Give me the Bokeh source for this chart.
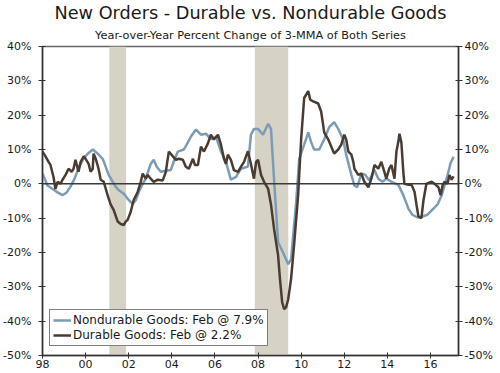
from bokeh.plotting import figure
from bokeh.models import (LinearAxis, Range1d, FixedTicker, CustomJSTickFormatter,
                          BoxAnnotation, Span, Legend, LegendItem, Title)
from bokeh.embed import file_html
from bokeh.resources import INLINE

# ---------------- data ----------------
title_text = "New Orders - Durable vs. Nondurable Goods"
subtitle_text = "Year-over-Year Percent Change of 3-MMA of Both Series"

nd_label = "Nondurable Goods: Feb @ 7.9%"
d_label = "Durable Goods: Feb @ 2.2%"

nd_years = [1998.00, 1998.23, 1998.47, 1998.70, 1998.93, 1999.12, 1999.30, 1999.49, 1999.67, 1999.91,
            2000.14, 2000.33, 2000.56, 2000.79, 2000.93, 2001.07, 2001.26, 2001.40, 2001.53, 2001.77,
            2002.00, 2002.19, 2002.33, 2002.47, 2002.65, 2002.79, 2003.02, 2003.16, 2003.30, 2003.49,
            2003.72, 2003.95, 2004.09, 2004.28, 2004.56, 2004.74, 2004.88, 2005.12, 2005.35, 2005.58,
            2005.81, 2006.05, 2006.28, 2006.51, 2006.74, 2006.98, 2007.21, 2007.53, 2007.67, 2007.81,
            2008.00, 2008.23, 2008.47, 2008.60, 2008.74, 2008.93, 2009.16, 2009.40, 2009.53, 2009.77,
            2009.91, 2010.14, 2010.33, 2010.47, 2010.60, 2010.84, 2011.07, 2011.30, 2011.53, 2011.72,
            2011.95, 2012.09, 2012.33, 2012.47, 2012.60, 2012.79, 2012.98, 2013.16, 2013.40, 2013.58,
            2013.77, 2013.95, 2014.19, 2014.51, 2014.74, 2014.98, 2015.16, 2015.40, 2015.63, 2015.86,
            2016.09, 2016.33, 2016.51, 2016.65, 2016.79, 2016.93, 2017.07]
nd_values = [3.0, -0.5, -1.5, -2.5, -3.3, -2.5, -0.8, 1.5, 4.5, 7.5,
             9.0, 10.0, 8.8, 7.3, 5.0, 2.6, 0.6, -0.9, -1.8, -2.9,
             -4.7, -5.8, -4.7, -2.3, 0.0, 1.5, 5.8, 7.0, 5.0, 3.5,
             3.8, 4.0, 6.5, 9.4, 10.0, 12.0, 13.7, 15.8, 14.3, 14.6,
             13.0, 13.7, 9.4, 6.4, 1.2, 2.0, 4.4, 5.0, 14.3, 16.0,
             16.0, 14.3, 17.5, 16.0, 1.5, -17.0, -20.0, -23.4, -22.0, -5.3,
             7.3, 11.4, 15.0, 12.0, 10.0, 10.0, 13.0, 16.5, 18.0, 16.0,
             12.9, 8.5, 2.6, -0.5, -1.0, 3.0, 2.6, 1.0, 4.0, 1.5,
             0.6, 1.5, 0.6, -0.3, -3.3, -7.3, -9.0, -9.8, -9.5, -9.0,
             -7.5, -6.0, -3.5, -0.5, 2.5, 6.0, 7.9]

d_years = [1998.00, 1998.14, 1998.28, 1998.37, 1998.51, 1998.60, 1998.70, 1998.84, 1998.93, 1999.07,
           1999.21, 1999.35, 1999.44, 1999.53, 1999.67, 1999.77, 1999.91, 2000.00, 2000.14, 2000.23,
           2000.33, 2000.37, 2000.47, 2000.60, 2000.70, 2000.84, 2001.02, 2001.16, 2001.30, 2001.49,
           2001.63, 2001.77, 2001.86, 2001.95, 2002.09, 2002.23, 2002.42, 2002.56, 2002.65, 2002.79,
           2002.88, 2003.02, 2003.16, 2003.35, 2003.58, 2003.72, 2003.86, 2004.05, 2004.19, 2004.33,
           2004.51, 2004.65, 2004.79, 2004.98, 2005.07, 2005.21, 2005.35, 2005.49, 2005.67, 2005.81,
           2005.95, 2006.14, 2006.28, 2006.42, 2006.51, 2006.60, 2006.74, 2006.88, 2007.07, 2007.21,
           2007.35, 2007.53, 2007.67, 2007.81, 2007.91, 2008.00, 2008.14, 2008.28, 2008.47, 2008.60,
           2008.74, 2008.93, 2009.02, 2009.12, 2009.21, 2009.30, 2009.40, 2009.53, 2009.67, 2009.86,
           2010.00, 2010.14, 2010.33, 2010.42, 2010.56, 2010.79, 2010.93, 2011.07, 2011.26, 2011.40,
           2011.53, 2011.72, 2011.86, 2012.00, 2012.09, 2012.19, 2012.33, 2012.42, 2012.47, 2012.65,
           2012.79, 2012.93, 2013.12, 2013.26, 2013.40, 2013.58, 2013.72, 2013.86, 2013.95, 2014.09,
           2014.19, 2014.33, 2014.42, 2014.51, 2014.56, 2014.65, 2014.74, 2014.79, 2014.98, 2015.12,
           2015.26, 2015.35, 2015.44, 2015.58, 2015.67, 2015.81, 2016.05, 2016.19, 2016.37, 2016.47,
           2016.56, 2016.65, 2016.79, 2016.88, 2016.98, 2017.07]
d_values = [9.4, 8.0, 6.4, 5.5, 2.0, -1.5, 0.6, 0.0, 1.2, 2.6,
            4.4, 3.5, 4.4, 7.0, 3.5, 6.4, 8.0, 7.3, 5.8, 3.5,
            4.4, 8.8, 7.3, 4.4, 1.2, 0.6, -3.3, -6.0, -7.6, -11.0,
            -11.7, -12.0, -11.0, -10.5, -8.2, -4.7, -2.3, 0.6, 3.0, 1.5,
            2.6, 1.5, 0.6, 1.2, 1.0, 3.5, 9.4, 8.0, 7.0, 7.3,
            7.0, 5.0, 4.4, 7.3, 5.5, 5.5, 10.8, 9.4, 11.7, 14.3,
            12.9, 14.3, 11.4, 7.3, 5.8, 8.5, 7.0, 4.0, 3.5, 5.0,
            6.4, 9.5, 5.8, 1.5, 6.4, 7.0, 2.6, 0.6, -1.5, -6.0,
            -13.0, -20.8, -28.0, -34.5, -36.5, -36.0, -33.6, -27.8, -18.0, -3.3,
            13.0, 25.0, 27.0, 24.5, 24.0, 23.4, 21.0, 15.0, 12.9, 10.8,
            8.8, 10.0, 11.4, 14.3, 12.9, 9.4, 8.5, 6.4, 4.4, 2.6,
            3.0, 0.6, -1.0, 1.5, 5.5, 4.4, 6.4, 3.5, 1.5, 4.5,
            5.5, 1.5, 9.4, 12.3, 14.6, 12.0, 3.5, 0.0, -0.3, -0.3,
            -2.3, -6.0, -9.5, -10.0, -5.0, 0.0, 0.6, 0.0, -1.0, -3.3,
            -0.5, 0.6, 0.0, 2.6, 1.2, 2.2]

recession_start = [2001.1, 2007.85]
recession_end = [2001.88, 2009.4]

x_ticks = [1998, 2000, 2002, 2004, 2006, 2008, 2010, 2012, 2014, 2016]
x_tick_labels = ["98", "00", "02", "04", "06", "08", "10", "12", "14", "16"]
y_ticks = [-50, -40, -30, -20, -10, 0, 10, 20, 30, 40]

# ---------------- styling ----------------
FONT = "DejaVu Sans"
BLUE = "#7b9cb4"
BROWN = "#4a3c31"
SHADE = "#d6d2c6"
AXIS = "#333333"

p = figure(width=495, height=370, output_backend="svg", toolbar_location=None,
           x_range=Range1d(1998, 2017.3), y_range=Range1d(-50, 40),
           title=None, min_border_left=34, min_border_right=0, min_border_top=0,
           min_border_bottom=0, background_fill_color="white", border_fill_color="white")

p.add_layout(Title(text=subtitle_text, align="center", text_font=FONT, text_font_size="11.3px",
                   text_font_style="normal", text_color="#1a1a1a", standoff=9), "above")
p.add_layout(Title(text=title_text, align="center", text_font=FONT, text_font_size="17.7px",
                   text_font_style="normal", text_color="#1a1a1a", standoff=0), "above")

p.xgrid.visible = False
p.ygrid.visible = False
p.outline_line_color = "#666666"
p.outline_line_width = 1.5

for s, e in zip(recession_start, recession_end):
    p.add_layout(BoxAnnotation(left=s, right=e, fill_color=SHADE, fill_alpha=1.0,
                               line_alpha=0, level="underlay"))

p.add_layout(Span(location=0, dimension="width", line_color="#3a3a3a", line_width=1.5))

r_nd = p.line(nd_years, nd_values, line_color=BLUE, line_width=2.5)
r_d = p.line(d_years, d_values, line_color=BROWN, line_width=2.5)

fmt = CustomJSTickFormatter(code="return Math.round(tick) + '%';")

# left axis
ly = p.yaxis[0]
ly.ticker = FixedTicker(ticks=y_ticks)
ly.formatter = fmt
right_axis = LinearAxis(ticker=FixedTicker(ticks=y_ticks), formatter=fmt)
p.add_layout(right_axis, "right")

for ax in [ly, right_axis]:
    ax.major_label_text_font = FONT
    ax.major_label_text_font_size = "11px"
    ax.major_label_text_color = "#1a1a1a"
    ax.axis_line_color = AXIS
    ax.axis_line_width = 1.5
    ax.major_tick_line_color = AXIS
    ax.major_tick_line_width = 1
    ax.major_tick_in = 3
    ax.major_tick_out = 4
    ax.minor_tick_line_color = None
ly.major_label_standoff = 7
right_axis.major_label_standoff = 2

xa = p.xaxis[0]
xa.ticker = FixedTicker(ticks=x_ticks)
xa.major_label_overrides = {t: l for t, l in zip(x_ticks, x_tick_labels)}
xa.major_label_text_font = FONT
xa.major_label_text_font_size = "11px"
xa.major_label_text_color = "#1a1a1a"
xa.axis_line_color = AXIS
xa.axis_line_width = 1.5
xa.major_tick_line_color = AXIS
xa.major_tick_in = 3
xa.major_tick_out = 3
xa.minor_tick_line_color = None
xa.major_label_standoff = 1

legend = Legend(items=[LegendItem(label=nd_label, renderers=[r_nd]),
                       LegendItem(label=d_label, renderers=[r_d])],
                location=(7, 9), orientation="vertical")
legend.label_text_font = FONT
legend.label_text_font_size = "12px"
legend.label_text_color = "#1a1a1a"
legend.border_line_color = "black"
legend.border_line_width = 1
legend.background_fill_color = "white"
legend.background_fill_alpha = 1
legend.padding = 3
legend.spacing = 1
legend.margin = 0
legend.label_height = 12
legend.glyph_height = 12
legend.glyph_width = 18
legend.label_standoff = 2
p.add_layout(legend)

open("out.html", "w").write(file_html(p, INLINE))
